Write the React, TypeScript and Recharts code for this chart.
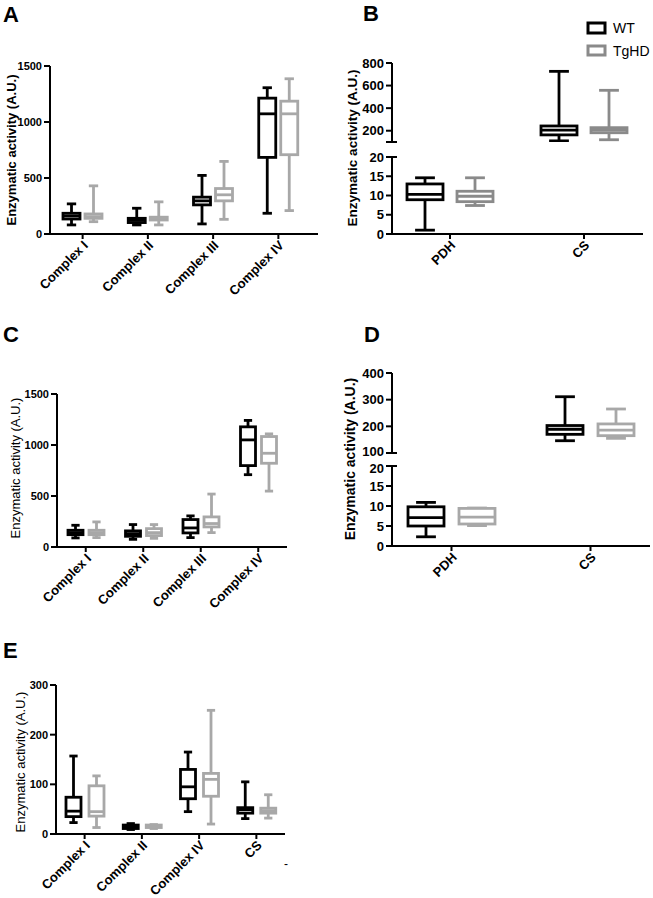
import React from 'react';
import { ComposedChart, Bar, XAxis, YAxis } from 'recharts';

const FONT = "'Liberation Sans', Arial, sans-serif";
const WT_COLOR = '#000000';
const TG_LIGHT = '#a8a8a8';
const TG_DARK = '#8a8a8a';

// every box is [min, q1, median, q3, max]
const catsA = ['Complex I', 'Complex II', 'Complex III', 'Complex IV'];
const wtA = [
  [81, 134, 161, 185, 269],
  [81, 102, 122, 140, 230],
  [90, 260, 296, 329, 523],
  [185, 684, 1073, 1213, 1306],
];
const tgA = [
  [110, 140, 155, 179, 430],
  [81, 125, 140, 150, 287],
  [131, 296, 350, 406, 648],
  [209, 708, 1073, 1186, 1386],
];

const catsB = ['PDH', 'CS'];
const wtB = [
  [1.0, 8.9, 10.3, 13.0, 14.6],
  [110, 163, 205, 242, 726],
];
const tgB = [
  [7.4, 8.4, 9.8, 11.1, 14.6],
  [120, 182, 206, 227, 558],
];

const catsC = ['Complex I', 'Complex II', 'Complex III', 'Complex IV'];
const wtC = [
  [89, 121, 141, 164, 213],
  [75, 105, 131, 158, 220],
  [92, 138, 187, 269, 305],
  [709, 798, 1050, 1178, 1241],
];
const tgC = [
  [92, 121, 141, 164, 246],
  [85, 112, 141, 180, 220],
  [141, 197, 230, 295, 519],
  [548, 821, 919, 1083, 1109],
];

const catsD = ['PDH', 'CS'];
const wtD = [
  [2.3, 5.0, 7.1, 9.8, 10.9],
  [146, 170, 189, 203, 311],
];
const tgD = [
  [5.1, 5.5, 7.2, 9.4, 9.5],
  [155, 165, 186, 209, 265],
];

const catsE = ['Complex I', 'Complex II', 'Complex IV', 'CS'];
const wtE = [
  [23, 35, 46, 74, 157],
  [9, 11, 14, 18, 21],
  [45, 71, 95, 130, 165],
  [31, 42, 49, 53, 105],
];
const tgE = [
  [13, 36, 45, 97, 117],
  [11, 13, 16, 18, 19],
  [20, 76, 110, 122, 249],
  [32, 42, 47, 52, 79],
];

const fits = (s: number[], domain: number[]) => s[0] >= domain[0] && s[4] <= domain[1];

const boxShape = (key: 'wt' | 'tg', color: string) => (props: any) => {
  const { x, y, width, height, payload } = props;
  const s = payload && payload[key];
  if (!s || height == null || isNaN(y)) return <g />;
  const [lo, q1, med, q3, hi] = s;
  const py = (v: number) => y + (height * (hi - v)) / (hi - lo);
  const cx = x + width / 2;
  const cap = width * 0.55;
  return (
    <g stroke={color} strokeWidth={2.8} fill="none">
      <line x1={cx} x2={cx} y1={py(hi)} y2={py(q3)} />
      <line x1={cx} x2={cx} y1={py(q1)} y2={py(lo)} />
      <line x1={cx - cap / 2} x2={cx + cap / 2} y1={py(hi)} y2={py(hi)} />
      <line x1={cx - cap / 2} x2={cx + cap / 2} y1={py(lo)} y2={py(lo)} />
      <rect x={x} y={py(q3)} width={width} height={py(q1) - py(q3)} fill="#fff" />
      <line x1={x} x2={x + width} y1={py(med)} y2={py(med)} />
    </g>
  );
};

const XTick = (props: any) => {
  const { x, y, payload, fontSize } = props;
  const ax = x + 3;
  const ay = y + 2;
  return (
    <text
      x={ax}
      y={ay}
      dy="0.35em"
      transform={`rotate(-45 ${ax} ${ay})`}
      textAnchor="end"
      fontFamily={FONT}
      fontWeight={700}
      fontSize={fontSize}
      fill="#000"
    >
      {payload.value}
    </text>
  );
};

const YTick = (props: any) => {
  const { x, y, payload, fontSize, breaks, unlabeled, breakShift } = props;
  const v = payload.value;
  const isBreak = breaks.includes(v);
  return (
    <g>
      {isBreak && <line x1={x + 3} x2={x + 13} y1={y} y2={y} stroke="#000" strokeWidth={2} />}
      {!unlabeled.includes(v) && (
        <text
          x={x}
          y={y + (isBreak ? breakShift : 0)}
          dy="0.35em"
          textAnchor="end"
          fontFamily={FONT}
          fontWeight={700}
          fontSize={fontSize}
          fill="#000"
        >
          {v}
        </text>
      )}
    </g>
  );
};

interface BoxChartProps {
  left: number;
  top: number;
  width: number;
  height: number;
  margin: { top: number; right: number; bottom: number; left: number };
  yWidth: number;
  cats: string[];
  wt: number[][];
  tg: number[][];
  domain: [number, number];
  ticks: number[];
  showX?: boolean;
  xPad?: { left: number; right: number };
  barSize: number;
  barGap: number;
  tgColor: string;
  tickFont: number;
  xFont?: number;
  breaks?: number[];
  unlabeled?: number[];
  breakShift?: number;
}

const BoxChart: React.FC<BoxChartProps> = ({
  left,
  top,
  width,
  height,
  margin,
  yWidth,
  cats,
  wt,
  tg,
  domain,
  ticks,
  showX = true,
  xPad = { left: 0, right: 0 },
  barSize,
  barGap,
  tgColor,
  tickFont,
  xFont = 13,
  breaks = [],
  unlabeled = [],
  breakShift = 0,
}) => {
  const rows = cats.map((name, i) => ({
    name,
    wt: fits(wt[i], domain) ? wt[i] : null,
    tg: fits(tg[i], domain) ? tg[i] : null,
  }));
  const axisStyle = { stroke: '#000', strokeWidth: 2 };
  return (
    <div style={{ position: 'absolute', left, top, width, height }}>
      <ComposedChart width={width} height={height} data={rows} margin={margin} barGap={barGap}>
        <XAxis
          dataKey="name"
          type="category"
          hide={!showX}
          height={showX ? 60 : 0}
          padding={xPad}
          interval={0}
          axisLine={axisStyle}
          tickLine={axisStyle}
          tickSize={5}
          tick={(p: any) => <XTick {...p} fontSize={xFont} />}
        />
        <YAxis
          type="number"
          domain={domain}
          ticks={ticks}
          interval={0}
          allowDataOverflow
          width={yWidth}
          axisLine={axisStyle}
          tickLine={axisStyle}
          tickSize={6}
          tick={(p: any) => (
            <YTick
              {...p}
              fontSize={tickFont}
              breaks={breaks}
              unlabeled={unlabeled}
              breakShift={breakShift}
            />
          )}
        />
        <Bar
          dataKey={(d: any) => (d.wt ? [d.wt[0], d.wt[4]] : null)}
          barSize={barSize}
          shape={boxShape('wt', WT_COLOR)}
          isAnimationActive={false}
        />
        <Bar
          dataKey={(d: any) => (d.tg ? [d.tg[0], d.tg[4]] : null)}
          barSize={barSize}
          shape={boxShape('tg', tgColor)}
          isAnimationActive={false}
        />
      </ComposedChart>
    </div>
  );
};

const YLabel = ({ x, y, bold, size }: { x: number; y: number; bold: boolean; size: number }) => (
  <text
    x={x}
    y={y}
    transform={`rotate(-90 ${x} ${y})`}
    textAnchor="middle"
    dominantBaseline="central"
    fontFamily={FONT}
    fontWeight={bold ? 700 : 400}
    fontSize={size}
    fill="#000"
  >
    Enzymatic activity (A.U.)
  </text>
);

const Letter = ({ x, y, t }: { x: number; y: number; t: string }) => (
  <text x={x} y={y} fontFamily={FONT} fontWeight={700} fontSize={22} fill="#000">
    {t}
  </text>
);

export default function App() {
  return (
    <div
      style={{
        position: 'absolute',
        left: 0,
        top: 0,
        width: 653,
        height: 898,
        background: '#fff',
        overflow: 'hidden',
      }}
    >
      {/* A */}
      <BoxChart
        left={0}
        top={0}
        width={330}
        height={300}
        margin={{ top: 66, right: 12, bottom: 6, left: 0 }}
        yWidth={50}
        cats={catsA}
        wt={wtA}
        tg={tgA}
        domain={[0, 1500]}
        ticks={[0, 500, 1000, 1500]}
        xPad={{ left: 0, right: 7 }}
        barSize={17}
        barGap={5}
        tgColor={TG_LIGHT}
        tickFont={11}
      />
      {/* B, broken axis */}
      <BoxChart
        left={330}
        top={0}
        width={323}
        height={150}
        margin={{ top: 63, right: 10, bottom: 8, left: 0 }}
        yWidth={62}
        cats={catsB}
        wt={wtB}
        tg={tgB}
        domain={[100, 800]}
        ticks={[100, 200, 400, 600, 800]}
        showX={false}
        xPad={{ left: -9, right: -8 }}
        barSize={36}
        barGap={14}
        tgColor={TG_DARK}
        tickFont={13}
        breaks={[100]}
        unlabeled={[100]}
      />
      <BoxChart
        left={330}
        top={140}
        width={323}
        height={160}
        margin={{ top: 17, right: 10, bottom: 6, left: 0 }}
        yWidth={62}
        cats={catsB}
        wt={wtB}
        tg={tgB}
        domain={[0, 20]}
        ticks={[0, 5, 10, 15, 20]}
        xPad={{ left: -9, right: -8 }}
        barSize={36}
        barGap={14}
        tgColor={TG_DARK}
        tickFont={13}
        breaks={[20]}
      />
      {/* C */}
      <BoxChart
        left={0}
        top={300}
        width={330}
        height={320}
        margin={{ top: 94, right: 43, bottom: 13, left: 0 }}
        yWidth={57}
        cats={catsC}
        wt={wtC}
        tg={tgC}
        domain={[0, 1500]}
        ticks={[0, 500, 1000, 1500]}
        barSize={15}
        barGap={6}
        tgColor={TG_LIGHT}
        tickFont={11}
      />
      {/* D, broken axis */}
      <BoxChart
        left={330}
        top={300}
        width={323}
        height={160}
        margin={{ top: 73, right: 3, bottom: 7, left: 0 }}
        yWidth={62}
        cats={catsD}
        wt={wtD}
        tg={tgD}
        domain={[100, 400]}
        ticks={[100, 200, 300, 400]}
        showX={false}
        xPad={{ left: -10, right: -10 }}
        barSize={36}
        barGap={15}
        tgColor={TG_LIGHT}
        tickFont={13}
        breaks={[100]}
        breakShift={-2}
      />
      <BoxChart
        left={330}
        top={450}
        width={323}
        height={160}
        margin={{ top: 16, right: 3, bottom: 4, left: 0 }}
        yWidth={62}
        cats={catsD}
        wt={wtD}
        tg={tgD}
        domain={[0, 20]}
        ticks={[0, 5, 10, 15, 20]}
        xPad={{ left: -10, right: -10 }}
        barSize={36}
        barGap={15}
        tgColor={TG_LIGHT}
        tickFont={13}
        breaks={[20]}
        breakShift={2}
      />
      {/* E */}
      <BoxChart
        left={0}
        top={590}
        width={330}
        height={308}
        margin={{ top: 95, right: 45, bottom: 4, left: 0 }}
        yWidth={56}
        cats={catsE}
        wt={wtE}
        tg={tgE}
        domain={[0, 300]}
        ticks={[0, 100, 200, 300]}
        barSize={15}
        barGap={8}
        tgColor={TG_LIGHT}
        tickFont={11}
      />

      <svg
        width={653}
        height={898}
        style={{ position: 'absolute', left: 0, top: 0, pointerEvents: 'none' }}
      >
        <Letter x={3} y={22} t="A" />
        <Letter x={363} y={21} t="B" />
        <Letter x={3} y={342} t="C" />
        <Letter x={364} y={342} t="D" />
        <Letter x={3} y={658} t="E" />

        <YLabel x={11} y={150} bold size={13} />
        <YLabel x={352} y={148} bold size={13.5} />
        <YLabel x={15} y={468} bold={false} size={13} />
        <YLabel x={350} y={459} bold size={14} />
        <YLabel x={20} y={762} bold={false} size={13} />

        {/* legend */}
        <rect x={588} y={23} width={17} height={10} fill="none" stroke={WT_COLOR} strokeWidth={3} />
        <rect x={588} y={46} width={17} height={9} fill="none" stroke={TG_DARK} strokeWidth={3} />
        <text x={613} y={28} dominantBaseline="central" fontFamily={FONT} fontSize={14} fill="#000">
          WT
        </text>
        <text x={613} y={51} dominantBaseline="central" fontFamily={FONT} fontSize={14} fill="#000">
          TgHD
        </text>
        <text x={284} y={868} fontFamily={FONT} fontSize={12} fill="#000">
          -
        </text>
      </svg>
    </div>
  );
}
